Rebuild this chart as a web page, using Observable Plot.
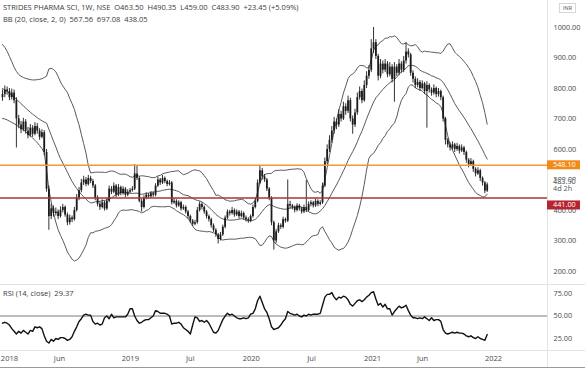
<!DOCTYPE html>
<html><head><meta charset="utf-8">
<script src="https://cdn.jsdelivr.net/npm/d3@7"></script>
<script src="https://cdn.jsdelivr.net/npm/@observablehq/plot@0.6"></script>
<style>
body{margin:0;background:#fff;}
#wrap{position:relative;width:585px;height:368px;overflow:hidden;background:#fff;}
#wrap svg{display:block;}
</style></head><body><div id="wrap"></div>
<script>
// ---- data (weekly candles, first week starting 2017-12-11) ----
const firstWeek = "2017-12-11";
const opens = [
770,780,795,790,770,785,760,700,680,665, 690,660,645,670,650,675,660,640,655,590,
470,380,405,390,395,380,400,410,385,360, 375,370,400,440,465,490,500,485,505,495,
480,440,420,410,425,405,430,470,460,480, 450,475,455,470,450,460,465,470,520,505,
430,410,440,450,445,455,450,480,500,490, 505,495,485,490,425,430,415,425,405,410,
395,380,365,355,360,400,420,410,395,380, 370,350,335,320,305,320,345,375,395,390,
400,385,395,380,390,375,370,365,380,410, 430,490,530,510,500,470,440,360,300,330,
350,345,370,365,420,415,410,400,415,405, 395,410,400,420,425,415,430,420,425,480,
560,600,630,660,690,680,715,700,740,725, 760,700,680,720,770,790,760,810,840,860,
930,950,905,840,880,860,880,845,870,830, 870,850,880,860,890,920,910,850,830,810,
820,800,815,790,810,795,785,800,780,790, 770,700,630,615,605,615,600,610,595,605,
590,565,550,560,535,520,530,505,490,463.5];
const highs = [
795,808,805,800,798,795,770,712,692,702, 698,672,682,678,688,685,668,665,662,600,
480,420,415,408,402,412,420,415,392,385, 382,410,452,475,502,512,508,515,512,502,
485,448,428,435,430,440,480,478,490,485, 485,480,478,475,468,472,478,550,545,510,
436,448,458,455,462,460,488,510,505,515, 510,500,498,495,438,435,432,430,418,415,
400,385,370,368,410,428,425,415,400,385, 375,356,340,325,328,352,382,402,400,410,
405,402,400,398,395,382,376,386,418,440, 500,548,538,518,505,475,445,365,338,358,
356,378,375,500,430,420,415,422,420,410, 418,498,428,432,430,438,435,432,490,572,
615,645,675,705,700,730,725,755,750,775, 768,710,732,785,805,798,825,855,875,960,
1000,960,912,895,890,895,888,885,878,885, 878,895,888,905,950,930,915,858,838,832,
826,825,820,822,815,802,812,805,800,795, 775,705,636,622,625,620,620,615,615,610,
595,570,570,565,540,540,535,510,495,490.35];
const lows = [
758,770,778,760,762,750,605,668,652,658, 650,635,640,640,645,650,630,635,580,460,
335,370,378,382,370,375,392,378,350,352, 360,365,395,432,458,482,478,480,488,472,
432,412,400,405,398,400,425,452,455,442, 445,448,450,442,445,455,460,465,498,425,
395,405,435,438,440,443,445,475,482,485, 488,478,480,418,420,408,410,398,400,388,
372,358,348,350,355,395,402,388,372,362, 342,328,312,290,300,315,340,370,382,385,
378,380,372,375,368,362,358,360,375,405, 425,485,500,492,462,432,350,270,292,325,
338,340,358,360,405,402,392,395,398,388, 390,393,395,412,408,410,412,415,420,475,
550,590,620,650,665,672,690,695,712,718, 690,650,672,712,762,750,755,800,830,852,
915,895,825,832,848,852,835,838,818,755, 840,842,850,852,880,900,840,818,800,802,
790,795,780,670,785,775,778,770,772,760, 690,615,605,595,598,590,594,585,590,580,
555,540,545,525,510,515,495,480,455,459];
const closes = [
780,795,790,770,785,760,700,680,665,690, 660,645,670,650,675,660,640,655,590,470,
380,405,390,395,380,400,410,385,360,375, 370,400,440,465,490,500,485,505,495,480,
440,420,410,425,405,430,470,460,480,450, 475,455,470,450,460,465,470,520,505,430,
410,440,450,445,455,450,480,500,490,505, 495,485,490,425,430,415,425,405,410,395,
380,365,355,360,400,420,410,395,380,370, 350,335,320,305,320,345,375,395,390,400,
385,395,380,390,375,370,365,380,410,430, 490,530,510,500,470,440,360,300,330,350,
345,370,365,420,415,410,400,415,405,395, 410,400,420,425,415,430,420,425,480,560,
600,630,660,690,680,715,700,740,725,760, 700,680,720,770,790,760,810,840,860,930,
950,905,840,880,860,880,845,870,830,870, 850,880,860,890,920,910,850,830,810,820,
800,815,790,810,795,785,800,780,790,770, 700,630,615,605,615,600,610,595,605,590,
565,550,560,535,520,530,505,490,463.5,483.9];
const rsiValues = [
42,43,42,40,36,33,30,33,31,34, 32,30,34,33,38,37,38,36,28,22,
20,24,22,25,24,26,26,25,23,24, 27,33,38,44,47,51,52,51,51,44,
41,42,40,41,48,50,47,52,48,49, 49,49,49,49,52,58,58,50,45,42,
43,45,46,46,48,50,56,55,53,53, 53,52,50,41,42,42,43,41,37,35,
33,30,40,49,48,44,45,43,45,42, 37,32,31,34,40,46,50,53,51,52,
50,48,47,47,48,47,48,52,53,58, 67,72,65,58,54,47,38,35,36,37,
40,44,47,55,53,52,51,52,50,49, 51,50,52,51,52,52,52,53,62,71,
74,74,76,71,68,71,70,72,71,68, 63,61,64,67,68,66,68,71,73,76,
77,69,62,64,60,63,58,58,51,55, 58,61,59,60,62,56,51,48,48,47,
48,47,49,47,45,48,45,46,46,44, 35,31,30,31,32,31,32,31,31,30,
28,27,28,26,25,27,25,24,23,29.37];
// Bollinger band values for the first 19 weeks (before a full 20-week window)
const bbUpperHead  = [944,935,922,905,888,870,856,846,840,836,833,831,829,828,828,829,830,832,836];
const bbMiddleHead = [800,795,790,785,778,772,765,758,750,743,736,729,722,716,710,704,699,694,690];
const bbLowerHead  = [702,700,697,693,689,685,680,675,670,665,658,651,645,638,630,622,613,603,590];
const bbLength = 20, bbMult = 2;

const levelValues = [548.10, 441.00];
const levelColors = ["#f39a2e", "#a8343a"];
const levelBoxColors = ["#f28a1a", "#b52430"];
const lastClose = 483.90;
const countdown = "4d 2h";

const priceTicks = [200,300,400,500,600,700,800,900,1000];
const rsiTicks = [25,50,75];
const timeTickDates = ["2018-01-01","2018-06-01","2019-01-01","2019-07-01","2020-01-01","2020-07-01","2021-01-01","2021-06-01","2022-01-01"];
const timeTickLabels = ["2018","Jun","2019","Jul","2020","Jul","2021","Jun","2022"];

const headerLine1 = "STRIDES PHARMA SCI, 1W, NSE  O463.50  H490.35  L459.00  C483.90  +23.45 (+5.09%)";
const headerLine2 = "BB (20, close, 2, 0)  567.56  697.08  438.05";
const rsiLabel = "RSI (14, close)  29.37";
const currency = "INR";

// ---- build table ----
const start = new Date(firstWeek + "T00:00:00Z");
const rows = closes.map((c, i) => ({
  date: new Date(+start + i * 7 * 864e5),
  open: opens[i], high: highs[i], low: lows[i], close: c, rsi: rsiValues[i]
}));
rows.forEach((r, i) => {
  if (i < bbLength - 1) { r.upper = bbUpperHead[i]; r.middle = bbMiddleHead[i]; r.lower = bbLowerHead[i]; }
  else {
    const w = closes.slice(i - bbLength + 1, i + 1);
    const m = d3.mean(w);
    const sd = Math.sqrt(d3.mean(w, v => (v - m) ** 2));
    r.upper = m + bbMult * sd; r.middle = m; r.lower = m - bbMult * sd;
  }
});

const FONT = "'Open Sans', 'Noto Sans', sans-serif";
const FS = 7.3;
const xDomain = [new Date("2017-12-05T00:00:00Z"), new Date("2022-06-13T00:00:00Z")];
const labelMap = new Map(timeTickDates.map((d, i) => [+new Date(d + "T00:00:00Z"), timeTickLabels[i]]));

const price = Plot.plot({
  width: 585, height: 285,
  marginLeft: 0, marginRight: 38, marginTop: 0, marginBottom: 0,
  style: {fontFamily: FONT, fontSize: FS + "px", color: "#4a4a4a", background: "transparent", overflow: "visible"},
  x: {type: "utc", domain: xDomain, axis: null},
  y: {domain: [154, 1088.5], axis: null},
  marks: [
    Plot.line(rows, {x: "date", y: "upper", stroke: "#5a5a5a", strokeWidth: 1}),
    Plot.line(rows, {x: "date", y: "middle", stroke: "#5a5a5a", strokeWidth: 1}),
    Plot.line(rows, {x: "date", y: "lower", stroke: "#5a5a5a", strokeWidth: 1}),
    Plot.ruleX(rows, {x: "date", y1: "low", y2: "high", stroke: "#1c1c1c", strokeWidth: 0.9}),
    Plot.ruleX(rows, {x: "date", y1: "open", y2: "close", stroke: "#1c1c1c", strokeWidth: 1.8}),
    Plot.ruleY(levelValues, {y: d => d, stroke: (d, i) => levelColors[i], strokeWidth: 1.5}),
    Plot.axisY({anchor: "right", ticks: priceTicks, tickFormat: d => d.toFixed(2), tickSize: 0, tickPadding: 6, fontSize: FS, label: null})
  ]
});

const rsiChart = Plot.plot({
  width: 585, height: 83,
  marginLeft: 0, marginRight: 38, marginTop: 0, marginBottom: 18,
  style: {fontFamily: FONT, fontSize: FS + "px", color: "#4a4a4a", background: "transparent", overflow: "visible"},
  x: {type: "utc", domain: xDomain},
  y: {domain: [11.7, 83.9]},
  marks: [
    Plot.ruleY([50], {stroke: "#7a7a7a", strokeWidth: 1}),
    Plot.line(rows, {x: "date", y: "rsi", stroke: "#111", strokeWidth: 1.4}),
    Plot.axisY({anchor: "right", ticks: rsiTicks, tickFormat: d => d.toFixed(2), tickSize: 0, tickPadding: 6, fontSize: FS, label: null}),
    Plot.axisX({ticks: timeTickDates.map(d => new Date(d + "T00:00:00Z")), tickFormat: d => labelMap.get(+d), tickSize: 0, tickPadding: 5, fontSize: 7.5, label: null})
  ]
});

const wrap = document.getElementById("wrap");
wrap.append(price, rsiChart);

// ---- overlays using the plot scales ----
const ys = price.scale("y");
const sp = d3.select(price);
const ov = sp.append("g").attr("font-family", FONT).attr("text-anchor", "start");
ov.append("line").attr("x1", 547.5).attr("x2", 547.5).attr("y1", 0).attr("y2", 285).attr("stroke", "#e3e3e3");
ov.append("line").attr("x1", 0).attr("x2", 585).attr("y1", 284.5).attr("y2", 284.5).attr("stroke", "#e3e3e3");
ov.append("text").attr("x", 3).attr("y", 10).attr("font-size", 7.5).attr("fill", "#3a3a3a").style("white-space", "pre").text(headerLine1);
ov.append("text").attr("x", 3).attr("y", 21.5).attr("font-size", 7.5).attr("fill", "#3a3a3a").style("white-space", "pre").text(headerLine2);
ov.append("rect").attr("x", 559.5).attr("y", 3.5).attr("width", 16).attr("height", 9).attr("fill", "#fff").attr("stroke", "#d6d6d6");
ov.append("text").attr("x", 567.5).attr("y", 10.3).attr("text-anchor", "middle").attr("font-size", 5.5).attr("fill", "#555").text(currency);
// last price + countdown
const yLast = ys.apply(lastClose);
ov.append("rect").attr("x", 548).attr("y", yLast - 5).attr("width", 37).attr("height", 16).attr("fill", "#fff");
ov.append("text").attr("x", 553).attr("y", yLast - 0.5).attr("font-size", FS).attr("fill", "#333").text(lastClose.toFixed(2));
ov.append("text").attr("x", 553).attr("y", yLast + 7).attr("font-size", FS).attr("fill", "#555").text(countdown);
// level labels
levelValues.forEach((v, i) => {
  const y = ys.apply(v) + (i === 1 ? 7.5 : 0);
  ov.append("rect").attr("x", 547).attr("y", y - 4.5).attr("width", 33).attr("height", 9).attr("fill", levelBoxColors[i]);
  ov.append("text").attr("x", 553).attr("y", y + 2.5).attr("font-size", FS).attr("fill", "#fff").text(v.toFixed(2));
});

const sr = d3.select(rsiChart);
const ov2 = sr.append("g").attr("font-family", FONT).attr("text-anchor", "start");
ov2.append("line").attr("x1", 547.5).attr("x2", 547.5).attr("y1", 0).attr("y2", 83).attr("stroke", "#e3e3e3");
ov2.append("line").attr("x1", 0).attr("x2", 585).attr("y1", 65.5).attr("y2", 65.5).attr("stroke", "#e3e3e3");
ov2.append("line").attr("x1", 0).attr("x2", 585).attr("y1", 82.5).attr("y2", 82.5).attr("stroke", "#9a9a9a");
ov2.append("text").attr("x", 3).attr("y", 10.5).attr("font-size", 7.5).attr("fill", "#3a3a3a").style("white-space", "pre").text(rsiLabel);
</script>
</body></html>
